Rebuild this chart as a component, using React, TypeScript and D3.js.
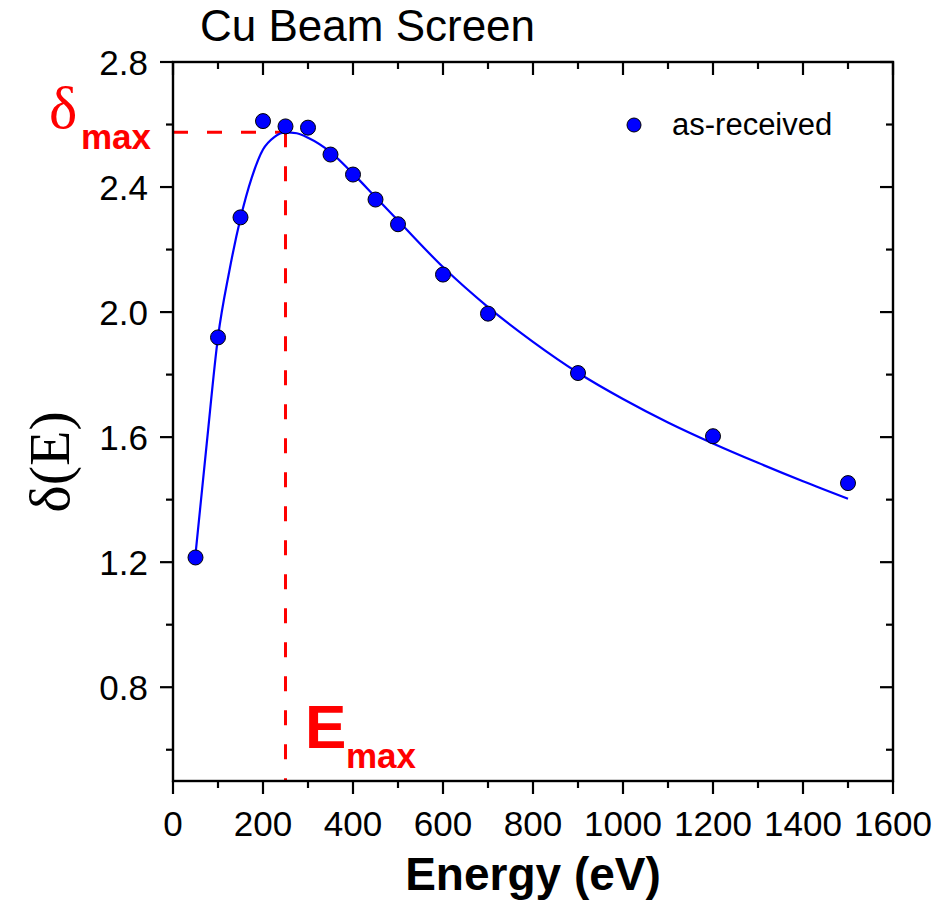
import React from "react";
import { scaleLinear, line, curveMonotoneX, range } from "d3";

// measured points (as-received)
const energy = [50, 100, 150, 200, 250, 300, 350, 400, 450, 500, 600, 700, 900, 1200, 1500];
const yieldVals = [1.215, 1.919, 2.303, 2.611, 2.594, 2.59, 2.504, 2.44, 2.36, 2.281, 2.12, 1.995, 1.805, 1.603, 1.453];

// fitted curve
const fitE = [50, 75, 100, 125, 150, 175, 200, 225, 250, 275, 300, 350, 400, 450, 500, 600, 700, 800, 900, 1000, 1100, 1200, 1300, 1400, 1500];
const fitY = [1.225, 1.58, 1.92, 2.13, 2.3, 2.43, 2.52, 2.56, 2.575, 2.572, 2.558, 2.512, 2.443, 2.368, 2.293, 2.144, 2.016, 1.905, 1.806, 1.722, 1.647, 1.58, 1.518, 1.459, 1.403];

const xTicks = [0, 200, 400, 600, 800, 1000, 1200, 1400, 1600];
const yTicks = [0.8, 1.2, 1.6, 2.0, 2.4, 2.8];
const eMax = 250;
const deltaMax = 2.575;

const W = 940;
const H = 901;
const left = 173;
const right = 893;
const top = 62;
const bottom = 781;

export default function App() {
  const x = scaleLinear().domain([0, 1600]).range([left, right]);
  const y = scaleLinear().domain([0.5, 2.8]).range([bottom, top]);

  const xMinor = range(0, 1601, 100);
  const yMinor = range(0.6, 2.81, 0.2);

  const fitPath = line<number>()
    .x((d, i) => x(fitE[i]))
    .y((d) => y(d))
    .curve(curveMonotoneX)(fitY);

  const sans = "Liberation Sans, Arial, sans-serif";
  const serif = "Liberation Serif, Times New Roman, serif";

  return (
    <svg
      width={W}
      height={H}
      viewBox={`0 0 ${W} ${H}`}
      style={{ position: "absolute", left: 0, top: 0, background: "white" }}
    >
      <rect x={0} y={0} width={W} height={H} fill="white" />

      {/* title */}
      <text x={200} y={41} fontFamily={sans} fontSize={44}>
        Cu Beam Screen
      </text>

      {/* dashed guides */}
      <line
        x1={left}
        x2={x(eMax)}
        y1={y(deltaMax)}
        y2={y(deltaMax)}
        stroke="#ff0000"
        strokeWidth={3}
        strokeDasharray="15,19"
      />
      <line
        x1={x(eMax)}
        x2={x(eMax)}
        y1={y(deltaMax)}
        y2={bottom}
        stroke="#ff0000"
        strokeWidth={3}
        strokeDasharray="15,19"
      />

      {/* fit */}
      <path d={fitPath || ""} fill="none" stroke="#0000ff" strokeWidth={2.2} />

      {/* points */}
      {energy.map((e, i) => (
        <circle key={i} cx={x(e)} cy={y(yieldVals[i])} r={7.5} fill="#0000ff" stroke="#000" strokeWidth={1} />
      ))}

      {/* frame */}
      <rect x={left} y={top} width={right - left} height={bottom - top} fill="none" stroke="#000" strokeWidth={2.4} />

      {/* bottom + top ticks */}
      {xMinor.map((v) => {
        const major = v % 200 === 0;
        const len = major ? 13 : 7;
        return (
          <g key={`xt-${v}`}>
            <line x1={x(v)} x2={x(v)} y1={bottom} y2={bottom + len} stroke="#000" strokeWidth={2.2} />
            <line x1={x(v)} x2={x(v)} y1={top} y2={top + len} stroke="#000" strokeWidth={2.2} />
          </g>
        );
      })}
      {xTicks.map((v) => (
        <text key={`xl-${v}`} x={x(v)} y={836} textAnchor="middle" fontFamily={sans} fontSize={35}>
          {v}
        </text>
      ))}

      {/* left + right ticks */}
      {yMinor.map((v) => {
        const major = Math.round(v * 10) % 4 === 0;
        const len = major ? 13 : 7;
        return (
          <g key={`yt-${v.toFixed(1)}`}>
            <line x1={left - len} x2={left} y1={y(v)} y2={y(v)} stroke="#000" strokeWidth={2.2} />
            <line x1={right - len} x2={right} y1={y(v)} y2={y(v)} stroke="#000" strokeWidth={2.2} />
          </g>
        );
      })}
      {yTicks.map((v) => (
        <text
          key={`yl-${v}`}
          x={148}
          y={y(v)}
          dy="0.36em"
          textAnchor="end"
          fontFamily={sans}
          fontSize={35}
        >
          {v.toFixed(1)}
        </text>
      ))}

      {/* axis titles */}
      <text x={(left + right) / 2} y={890} textAnchor="middle" fontFamily={sans} fontWeight="bold" fontSize={46}>
        Energy (eV)
      </text>
      <text
        transform={`translate(69, 462) rotate(-90)`}
        textAnchor="middle"
        fontFamily={serif}
        fontSize={58}
      >
        δ(E)
      </text>

      {/* annotations */}
      <text x={49} y={128} fill="#ff0000" fontFamily={serif} fontSize={60}>
        δ
      </text>
      <text x={81} y={149} fill="#ff0000" fontFamily={sans} fontWeight="bold" fontSize={35}>
        max
      </text>
      <text x={305} y={748} fill="#ff0000" fontFamily={sans} fontWeight="bold" fontSize={62}>
        E
      </text>
      <text x={346} y={768} fill="#ff0000" fontFamily={sans} fontWeight="bold" fontSize={35}>
        max
      </text>

      {/* legend */}
      <circle cx={634} cy={125} r={7} fill="#0000ff" stroke="#000" strokeWidth={1} />
      <text x={672} y={135} fontFamily={sans} fontSize={31}>
        as-received
      </text>
    </svg>
  );
}
